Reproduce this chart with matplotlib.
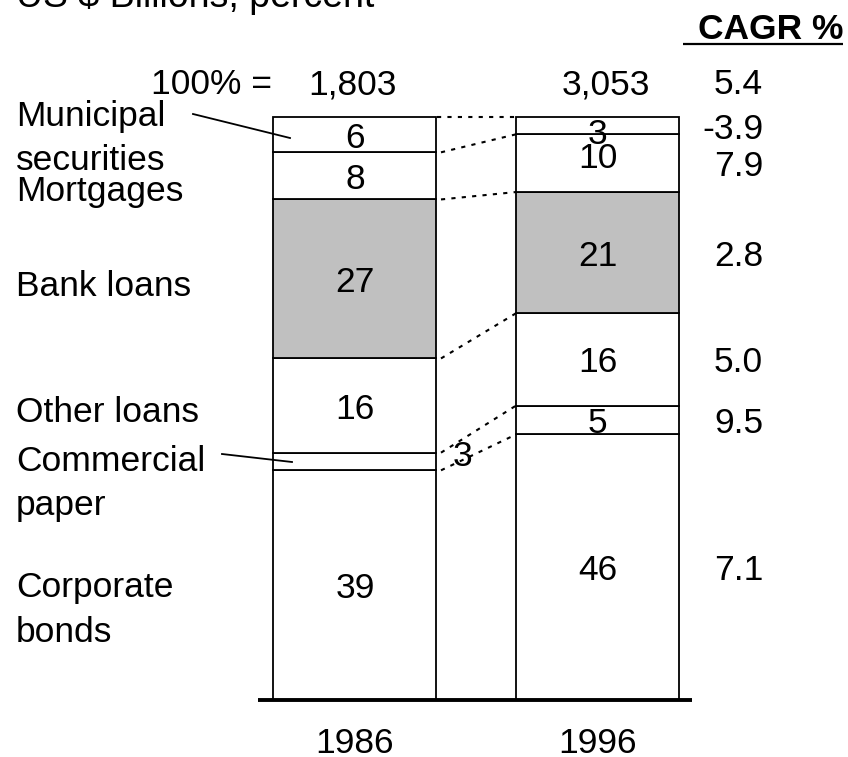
import numpy as np
import matplotlib.pyplot as plt

plt.rcParams['font.family'] = ['Liberation Sans', 'DejaVu Sans']

# segments from bottom to top
segments = ["Corporate bonds", "Commercial paper", "Other loans",
            "Bank loans", "Mortgages", "Municipal securities"]
years = ["1986", "1996"]
shares_1986 = [39, 3, 16, 27, 8, 6]
shares_1996 = [46, 5, 16, 21, 10, 3]
totals = ["1,803", "3,053"]
cagr = ["7.1", "9.5", "5.0", "2.8", "7.9", "-3.9"]
cagr_total = "5.4"

fs = 25.5
W, H = 848, 757

fig = plt.figure(figsize=(W / 100, H / 100), dpi=100)
ax = fig.add_axes([0, 0, 1, 1])
ax.axis('off')

# axis scaling: bar 0 centre at 355px, bar 1 at 597px; 0% at 700px, 100% at 117px
sx = 242.5
sy = (700 - 117) / 100
ax.set_xlim(-355 / sx, (W - 355) / sx)
ax.set_ylim(-(H - 700) / sy, 700 / sy)


def xd(px):
    return (px - 355) / sx


def yd(py):
    return (700 - py) / sy


bar_w = 163 / sx
colors = ["white", "white", "white", "#c0c0c0", "white", "white"]

bounds = []
for i, shares in enumerate([shares_1986, shares_1996]):
    s = np.array(shares, dtype=float)
    s = s / s.sum() * 100
    bottoms = np.concatenate([[0], np.cumsum(s)[:-1]])
    ax.bar(i, s, bottom=bottoms, width=bar_w, color=colors,
           edgecolor='black', linewidth=1.3, zorder=2)
    bounds.append(np.concatenate([bottoms, [100]]))
    for k, (b, h, v) in enumerate(zip(bottoms, s, shares)):
        x, y = i, b + h / 2
        if i == 0 and segments[k] == "Commercial paper":
            x, y = xd(463), yd(453)
        elif i == 1 and segments[k] == "Mortgages":
            y = yd(155)
        elif i == 1 and segments[k] == "Municipal securities":
            y = yd(131)
        ax.text(x, y, str(v), fontsize=fs, ha='center', va='center_baseline', zorder=3)

# dotted connectors between the bars
b0, b1 = bounds
for k in range(1, len(b0)):
    x_start = xd(437) if k == len(b0) - 1 else xd(441)
    ax.plot([x_start, xd(516)], [b0[k], b1[k]], color='black', lw=1.5,
            linestyle=(0, (2, 3)), zorder=1)

# baseline
ax.plot([xd(258), xd(692)], [0, 0], color='black', lw=2.8, solid_capstyle='butt', zorder=3)

# year labels
for i, yr in enumerate(years):
    ax.text(i, yd(753), yr, fontsize=fs, ha='center', va='baseline')

# totals row
ax.text(xd(272), yd(94), "100% =", fontsize=fs, ha='right', va='baseline')
ax.text(xd(353), yd(94), totals[0], fontsize=fs, ha='center', va='baseline')
ax.text(xd(606), yd(94), totals[1], fontsize=fs, ha='center', va='baseline')
ax.text(xd(763), yd(94), cagr_total, fontsize=fs, ha='right', va='baseline')

# CAGR column
ax.text(xd(843), yd(39), "CAGR %", fontsize=fs, fontweight='bold', ha='right', va='baseline')
ax.plot([xd(683), xd(843)], [yd(44), yd(44)], color='black', lw=1.6, solid_capstyle='butt')
b1_centres = (b1[:-1] + b1[1:]) / 2
for c, y in zip(cagr, b1_centres):
    ax.text(xd(763), y, c, fontsize=fs, ha='right', va='center_baseline')

# left-hand labels, one line at a time (text, baseline px)
left = [("Municipal", 126), ("securities", 170), ("Mortgages", 201),
        ("Bank loans", 296), ("Other loans", 422), ("Commercial", 471),
        ("paper", 515), ("Corporate", 597), ("bonds", 642)]
for txt, base in left:
    ax.text(xd(16), yd(base), txt, fontsize=fs, ha='left', va='baseline')

# leader lines
ax.plot([xd(193), xd(290)], [yd(114), yd(138)], color='black', lw=1.3)
ax.plot([xd(222), xd(292)], [yd(454), yd(462)], color='black', lw=1.3)

# cut-off heading at the top
ax.text(xd(16), yd(7), "US $ Billions, percent", fontsize=27, ha='left', va='baseline')

fig.savefig("out.png", dpi=100)
